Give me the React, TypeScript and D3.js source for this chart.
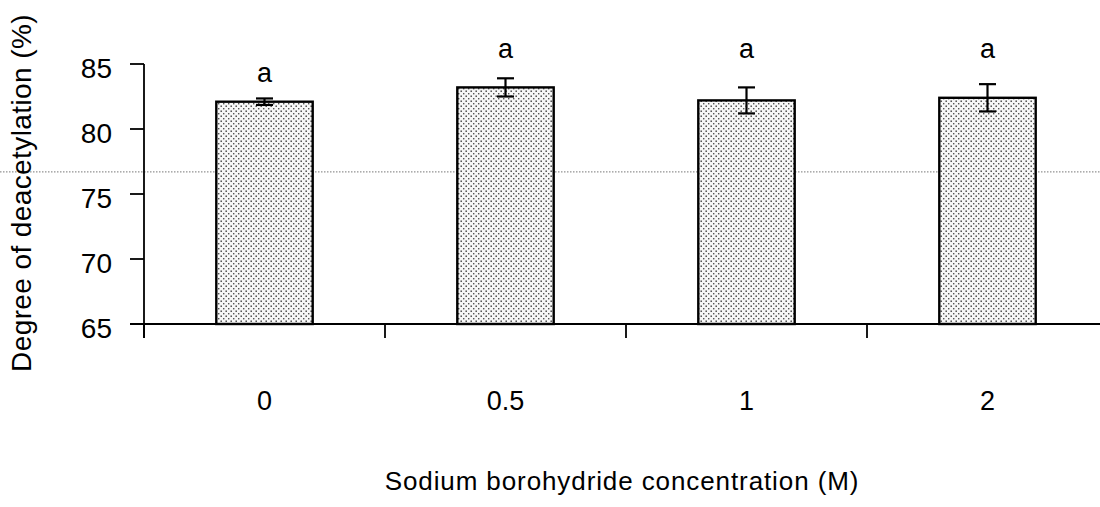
import React from "react";
import * as d3 from "d3";

// Degree of deacetylation by sodium borohydride concentration
const categories = ["0", "0.5", "1", "2"];
const means = [82.1, 83.2, 82.2, 82.4];
const errors = [0.25, 0.7, 1.0, 1.05];
const groupLetters = ["a", "a", "a", "a"];
const letterLevels = [83.6, 85.5, 85.5, 85.5];
const yTicks = [65, 70, 75, 80, 85];
const referenceLevel = 76.7;

const W = 1100;
const H = 507;
const FONT = "Arial, 'Liberation Sans', Helvetica, sans-serif";

export default function App() {
  const axisX = 144;
  const baseY = 324;
  const x = d3
    .scaleBand<string>()
    .domain(categories)
    .range([axisX, axisX + 4 * 241])
    .paddingInner(0.6)
    .paddingOuter(0.3);
  const y = d3.scaleLinear().domain([65, 85]).range([baseY, 64]);
  const step = x.step();
  const bw = x.bandwidth();
  const gap = (step - bw) / 2;
  const boundaries = categories.map((c) => (x(c) as number) - gap);
  boundaries.push((x(categories[categories.length - 1]) as number) + bw + gap);

  return (
    <svg
      width={W}
      height={H}
      style={{ position: "absolute", left: 0, top: 0, background: "#fff" }}
      fontFamily={FONT}
    >
      <defs>
        <pattern id="stipple" width="5" height="5" patternUnits="userSpaceOnUse">
          <rect width="5" height="5" fill="#f7f7f7" />
          <rect x="0.5" y="0.5" width="1.4" height="1.4" fill="#333" />
          <rect x="3" y="3" width="1.4" height="1.4" fill="#555" />
        </pattern>
      </defs>

      {/* faint reference line */}
      <line
        x1={0}
        x2={W}
        y1={y(referenceLevel)}
        y2={y(referenceLevel)}
        stroke="#777"
        strokeWidth={1}
        strokeDasharray="1.5,1.5"
      />

      {/* bars */}
      {categories.map((c, i) => (
        <rect
          key={c}
          x={x(c)}
          y={y(means[i])}
          width={bw}
          height={baseY - y(means[i])}
          fill="url(#stipple)"
          stroke="#000"
          strokeWidth={2.4}
        />
      ))}

      {/* error bars */}
      {categories.map((c, i) => {
        const cx = (x(c) as number) + bw / 2;
        const top = y(means[i] + errors[i]);
        const bot = y(means[i] - errors[i]);
        return (
          <g key={c} stroke="#000" strokeWidth={2.2}>
            <line x1={cx} x2={cx} y1={top} y2={bot} />
            <line x1={cx - 8.5} x2={cx + 8.5} y1={top} y2={top} />
            <line x1={cx - 8.5} x2={cx + 8.5} y1={bot} y2={bot} />
          </g>
        );
      })}

      {/* significance letters */}
      {categories.map((c, i) => (
        <text
          key={c}
          x={(x(c) as number) + bw / 2}
          y={y(letterLevels[i])}
          textAnchor="middle"
          fontSize={27}
          fill="#000"
        >
          {groupLetters[i]}
        </text>
      ))}

      {/* y axis */}
      <line x1={axisX} x2={axisX} y1={y(85)} y2={338} stroke="#000" strokeWidth={1.8} />
      {yTicks.map((t) => (
        <g key={t}>
          <line x1={130} x2={axisX} y1={y(t)} y2={y(t)} stroke="#000" strokeWidth={1.8} />
          <text
            x={112}
            y={y(t) + 4}
            dy="0.36em"
            textAnchor="end"
            fontSize={28}
            fill="#000"
          >
            {t}
          </text>
        </g>
      ))}

      {/* x axis */}
      <line x1={130} x2={W} y1={baseY} y2={baseY} stroke="#000" strokeWidth={1.8} />
      {boundaries.map((b, i) => (
        <line key={i} x1={b} x2={b} y1={baseY} y2={338} stroke="#000" strokeWidth={1.8} />
      ))}
      {categories.map((c) => (
        <text
          key={c}
          x={(x(c) as number) + bw / 2}
          y={410}
          textAnchor="middle"
          fontSize={27}
          fill="#000"
        >
          {c}
        </text>
      ))}

      {/* axis titles */}
      <text
        x={622}
        y={490}
        textAnchor="middle"
        fontSize={26}
        letterSpacing={0.9}
        fill="#000"
      >
        Sodium borohydride concentration (M)
      </text>
      <text
        transform={`translate(31,${193}) rotate(-90)`}
        textAnchor="middle"
        fontSize={28}
        letterSpacing={0.4}
        fill="#000"
      >
        Degree of deacetylation (%)
      </text>
    </svg>
  );
}
